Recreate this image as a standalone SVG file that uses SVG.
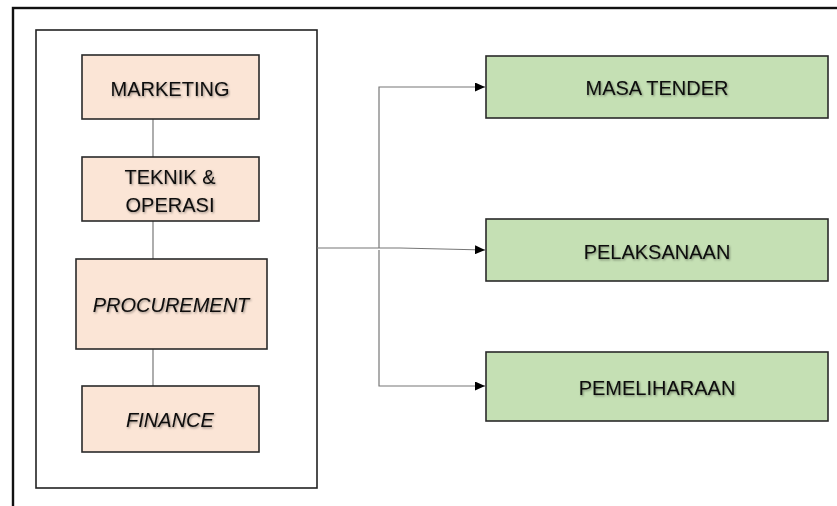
<svg xmlns="http://www.w3.org/2000/svg" width="837" height="506" viewBox="0 0 837 506">
<defs>
<style>
.frame{fill:none;stroke:#111;stroke-width:2.4}
.inner{fill:#fff;stroke:#222;stroke-width:1.6}
.peach{fill:#FBE5D6;stroke:#2a2a2a;stroke-width:1.6}
.green{fill:#C5E0B4;stroke:#2a2a2a;stroke-width:1.6}
.lbl{font-family:"Liberation Sans",Arial,sans-serif;font-size:20px;fill:#0a0a0a;text-anchor:middle;filter:url(#sh)}
.it{font-style:italic}
.ln{fill:none;stroke:#777;stroke-width:1.2}
</style>
<filter id="sh" x="-10%" y="-30%" width="120%" height="160%">
<feDropShadow dx="1" dy="1.2" stdDeviation="0.9" flood-color="#000" flood-opacity="0.4"/>
</filter>
<marker id="ar" markerWidth="10" markerHeight="9" refX="10" refY="4.5" orient="auto" markerUnits="userSpaceOnUse">
<path d="M0,0 L10,4.5 L0,9 Z" fill="#000"/>
</marker>
</defs>
<rect class="frame" x="13" y="8" width="840" height="520"/>
<g id="group-box"><rect class="inner" x="36" y="30" width="281" height="458"/></g>
<g id="connectors">
<line class="ln" x1="153" y1="119" x2="153" y2="157"/>
<line class="ln" x1="153" y1="221" x2="153" y2="259"/>
<line class="ln" x1="153" y1="349" x2="153" y2="386"/>
<polyline class="ln" points="317,248 400,248 485,250" marker-end="url(#ar)"/>
<polyline class="ln" points="379,248 379,87 485,87" marker-end="url(#ar)"/>
<polyline class="ln" points="379,250 379,386 485,386" marker-end="url(#ar)"/>
</g>
<g id="marketing"><rect class="peach" x="82" y="55" width="177" height="64"/><text class="lbl" x="170" y="96">MARKETING</text></g>
<g id="teknik"><rect class="peach" x="82" y="157" width="177" height="64"/><text class="lbl" x="170" y="184">TEKNIK &amp;</text><text class="lbl" x="170" y="212">OPERASI</text></g>
<g id="procurement"><rect class="peach" x="76" y="259" width="191" height="90"/><text class="lbl it" x="171" y="312">PROCUREMENT</text></g>
<g id="finance"><rect class="peach" x="82" y="386" width="177" height="66"/><text class="lbl it" x="170" y="427">FINANCE</text></g>
<g id="masa-tender"><rect class="green" x="486" y="56" width="342" height="62"/><text class="lbl" x="657" y="95">MASA TENDER</text></g>
<g id="pelaksanaan"><rect class="green" x="486" y="219" width="342" height="62"/><text class="lbl" x="657" y="259">PELAKSANAAN</text></g>
<g id="pemeliharaan"><rect class="green" x="486" y="352" width="342" height="69"/><text class="lbl" x="657" y="395">PEMELIHARAAN</text></g>
</svg>
